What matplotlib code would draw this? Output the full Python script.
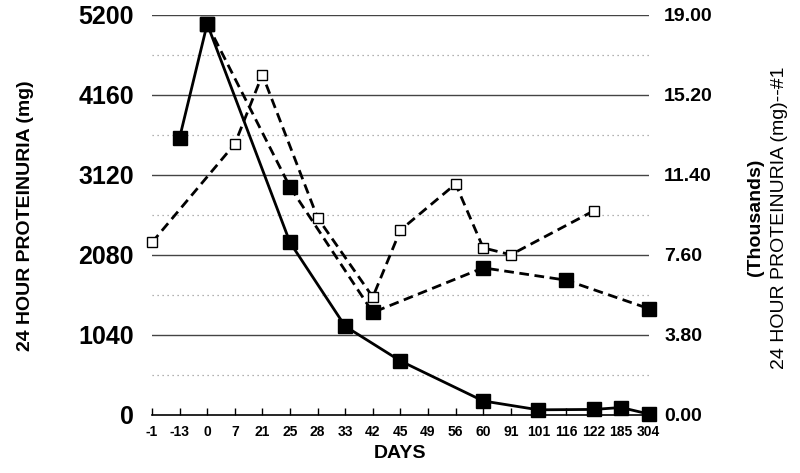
import numpy as np
from matplotlib import pyplot as plt

plt.rcParams['font.family'] = ['Liberation Sans', 'DejaVu Sans']

days = ["-1", "-13", "0", "7", "21", "25", "28", "33", "42", "45", "49",
        "56", "60", "91", "101", "116", "122", "185", "304"]

# solid line, filled squares
solid_days = ["-13", "0", "25", "33", "45", "60", "101", "122", "185", "304"]
solid_vals = [3600, 5080, 2240, 1150, 700, 180, 65, 70, 95, 10]

# dashed line, filled squares
dfill_days = ["0", "25", "42", "60", "116", "304"]
dfill_vals = [5080, 2960, 1330, 1910, 1750, 1380]

# dashed line, open squares
dopen_days = ["-1", "7", "21", "28", "42", "45", "56", "60", "91", "122"]
dopen_vals = [2240, 3520, 4420, 2560, 1530, 2400, 3000, 2170, 2080, 2650]

left_ticks = [0, 1040, 2080, 3120, 4160, 5200]
right_ticks = [0.0, 3.8, 7.6, 11.4, 15.2, 19.0]

pos = {d: i for i, d in enumerate(days)}

fig = plt.figure(figsize=(8, 4.73), dpi=100)
ax = fig.add_axes([0.19, 0.123, 0.621, 0.846])

# grid
for v in left_ticks[1:]:
    ax.axhline(v, color='#444444', lw=1.0, zorder=1)
for v in left_ticks[:-1]:
    ax.axhline(v + 520, color='#999999', lw=0.9, ls=(0, (1, 3)), zorder=1)

ax.plot([pos[d] for d in dopen_days], dopen_vals, color='black', lw=2, ls=(0, (3.5, 2)),
        marker='s', ms=7, mfc='white', mec='black', mew=1, zorder=3, clip_on=False)
ax.plot([pos[d] for d in dfill_days], dfill_vals, color='black', lw=2, ls=(0, (3.5, 2)),
        marker='s', ms=9.5, mfc='black', mec='black', zorder=4, clip_on=False)
ax.plot([pos[d] for d in solid_days], solid_vals, color='black', lw=2, ls='-',
        marker='s', ms=9.5, mfc='black', mec='black', zorder=5, clip_on=False)

ax.set_xlim(0, len(days) - 1)
ax.set_ylim(0, 5200)
ax.set_xticks(range(len(days)))
ax.set_xticklabels(days, fontsize=10, fontweight='bold')
ax.set_yticks(left_ticks)
ax.set_yticklabels([str(v) for v in left_ticks], fontsize=18, fontweight='bold')
ax.tick_params(axis='x', direction='in', length=5, width=1, pad=7)
ax.tick_params(axis='y', length=0, pad=13)
for s in ['top', 'left', 'right']:
    ax.spines[s].set_visible(False)
ax.spines['bottom'].set_linewidth(1.2)

ax.set_xlabel("DAYS", fontsize=14, fontweight='bold', labelpad=5)

ax2 = ax.twinx()
ax2.set_ylim(0, 19)
ax2.set_yticks(right_ticks)
ax2.set_yticklabels(["%.2f" % v for v in right_ticks], fontsize=14, fontweight='bold')
ax2.tick_params(axis='y', length=0, pad=11)
for s in ['top', 'left', 'right', 'bottom']:
    ax2.spines[s].set_visible(False)

fig.text(0.032, 0.543, "24 HOUR PROTEINURIA (mg)", rotation=90, fontsize=14,
         fontweight='bold', ha='center', va='center')
fig.text(0.944, 0.54, "(Thousands)", rotation=90, fontsize=14, fontweight='bold',
         ha='center', va='center')
fig.text(0.974, 0.54, "24 HOUR PROTEINURIA (mg)--#1", rotation=90, fontsize=14,
         ha='center', va='center')

fig.savefig("out.png", dpi=100)
